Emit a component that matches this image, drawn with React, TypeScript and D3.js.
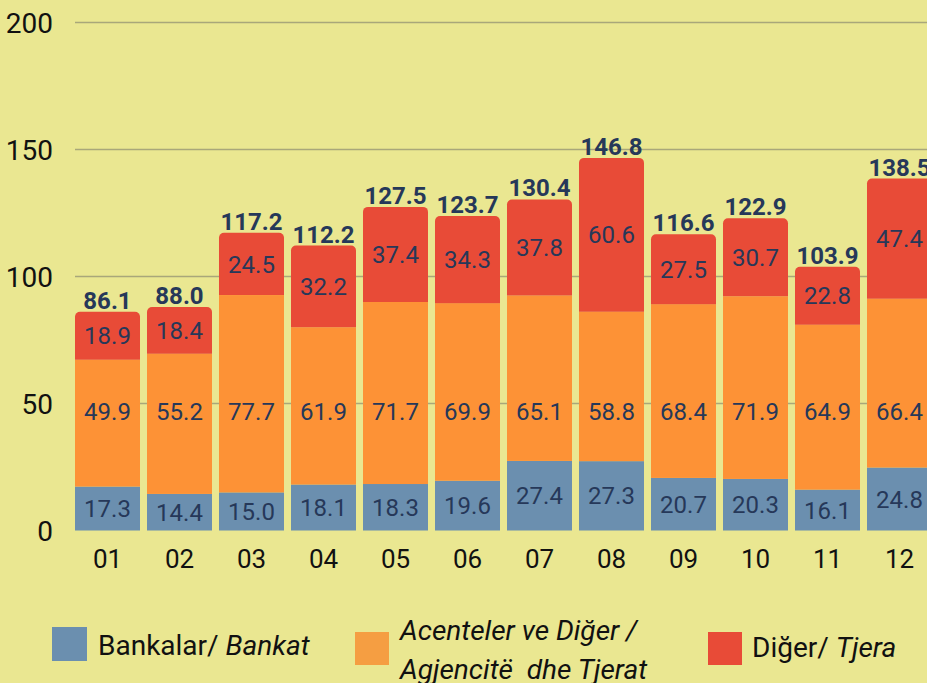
import * as d3 from "d3";

// monthly values
const months = ["01", "02", "03", "04", "05", "06", "07", "08", "09", "10", "11", "12"];
const bankat = [17.3, 14.4, 15.0, 18.1, 18.3, 19.6, 27.4, 27.3, 20.7, 20.3, 16.1, 24.8];
const acenteler = [49.9, 55.2, 77.7, 61.9, 71.7, 69.9, 65.1, 58.8, 68.4, 71.9, 64.9, 66.4];
const tjera = [18.9, 18.4, 24.5, 32.2, 37.4, 34.3, 37.8, 60.6, 27.5, 30.7, 22.8, 47.4];
const totals = [86.1, 88.0, 117.2, 112.2, 127.5, 123.7, 130.4, 146.8, 116.6, 122.9, 103.9, 138.5];
const yTicks = [0, 50, 100, 150, 200];

const W = 927;
const H = 683;
const BG = "#EAE791";
const COLORS = ["#6B8FAF", "#FD9236", "#E84B37"];
const LEGEND_COLORS = ["#6B8FAF", "#F59E42", "#E84B37"];
const LABEL = "#263859";
const FONT = "Roboto, 'Noto Sans', sans-serif";

const rows = months.map((m, i) => ({ m, a: bankat[i], b: acenteler[i], c: tjera[i] }));
const series = d3.stack<any>().keys(["a", "b", "c"])(rows);

const x = d3.scaleBand().domain(months).range([68, 939]).padding(0.0972);
const y = d3.scaleLinear().domain([0, 200]).range([530.5, 22.5]);

// rect with rounded top corners only
function topRounded(x0: number, y0: number, w: number, h: number, r: number) {
  const p = d3.path();
  p.moveTo(x0, y0 + h);
  p.lineTo(x0, y0 + r);
  p.arcTo(x0, y0, x0 + r, y0, r);
  p.lineTo(x0 + w - r, y0);
  p.arcTo(x0 + w, y0, x0 + w, y0 + r, r);
  p.lineTo(x0 + w, y0 + h);
  p.closePath();
  return p.toString();
}

const App = () => {
  const bw = x.bandwidth();
  return (
    <svg
      width={W}
      height={H}
      style={{ position: "absolute", left: 0, top: 0, background: BG, fontFamily: FONT }}
    >
      <rect width={W} height={H} fill={BG} />

      {/* grid */}
      {yTicks.filter((t) => t > 0).map((t) => (
        <line key={t} x1={75} x2={W} y1={y(t)} y2={y(t)} stroke="#A9A77A" strokeWidth={1.5} />
      ))}
      {yTicks.map((t) => (
        <text key={t} x={53} y={y(t)} dy="0.36em" textAnchor="end" fontSize={28} fill="#111">
          {t}
        </text>
      ))}

      {/* bars */}
      {series.map((s, si) =>
        s.map((d, i) => {
          const x0 = x(months[i])!;
          const y0 = y(d[1]);
          const h = y(d[0]) - y(d[1]);
          return si === 2 ? (
            <path key={`${si}-${i}`} d={topRounded(x0, y0, bw, h, 5)} fill={COLORS[si]} />
          ) : (
            <rect key={`${si}-${i}`} x={x0} y={y0} width={bw} height={h} fill={COLORS[si]} />
          );
        })
      )}

      {/* segment labels */}
      {series.map((s, si) =>
        s.map((d, i) => {
          const cx = x(months[i])! + bw / 2;
          // orange labels sit on one row, others centred in their segment
          const cy = si === 1 ? y(47) : y((d[0] + d[1]) / 2);
          return (
            <text
              key={`l${si}-${i}`}
              x={cx}
              y={cy}
              dy="0.36em"
              textAnchor="middle"
              fontSize={24}
              fill={LABEL}
            >
              {(d[1] - d[0]).toFixed(1)}
            </text>
          );
        })
      )}

      {/* totals */}
      {totals.map((t, i) => (
        <text
          key={`t${i}`}
          x={x(months[i])! + bw / 2}
          y={y(t) - 3}
          textAnchor="middle"
          fontSize={24}
          fontWeight="bold"
          fill={LABEL}
        >
          {t.toFixed(1)}
        </text>
      ))}

      {/* x axis labels */}
      {months.map((m) => (
        <text key={m} x={x(m)! + bw / 2} y={568} textAnchor="middle" fontSize={26} fill="#111">
          {m}
        </text>
      ))}

      {/* legend */}
      <g fontSize={28} fill="#111">
        <rect x={52} y={627} width={35} height={34} fill={LEGEND_COLORS[0]} />
        <text x={98} y={655}>
          Bankalar/ <tspan fontStyle="italic">Bankat</tspan>
        </text>
        <rect x={355} y={632} width={34} height={33} fill={LEGEND_COLORS[1]} />
        <text x={400} y={640} fontStyle="italic">Acenteler ve Diğer /</text>
        <text x={400} y={679} fontStyle="italic" style={{ whiteSpace: "pre" }}>
          Agjencitë  dhe Tjerat
        </text>
        <rect x={708} y={632} width={34} height={33} fill={LEGEND_COLORS[2]} />
        <text x={752} y={657}>
          Diğer/ <tspan fontStyle="italic">Tjera</tspan>
        </text>
      </g>
    </svg>
  );
};

export default App;
